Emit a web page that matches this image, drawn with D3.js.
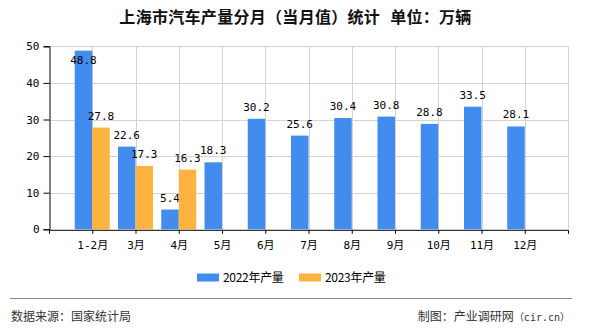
<!DOCTYPE html>
<html>
<head>
<meta charset="utf-8">
<script src="https://cdn.jsdelivr.net/npm/d3@7"></script>
<style>
html,body{margin:0;padding:0;background:#fff;}
svg{display:block;}
</style>
</head>
<body>
<div id="chart"></div>
<script>
const categories = ["1-2月","3月","4月","5月","6月","7月","8月","9月","10月","11月","12月"];
const series2022 = [48.8,22.6,5.4,18.3,30.2,25.6,30.4,30.8,28.8,33.5,28.1];
const series2023 = [27.8,17.3,16.3,null,null,null,null,null,null,null,null];
const seriesNames = ["2022年产量","2023年产量"];
const seriesColors = ["#428CEE","#FCB33F"];
const yTicks = [0,10,20,30,40,50];
const titleMain = "上海市汽车产量分月（当月值）统计";
const titleUnit = "单位：万辆";
const sourceText = "数据来源：国家统计局";
const creditText = "制图：产业调研网";
const creditSite = "（cir.cn）";

const W = 590, H = 330;
const L = 49, R = 568, T = 46.3, B = 229.3;
const monoFont = "'DejaVu Sans Mono','Noto Sans CJK SC',monospace";
const cjkFont = "'Noto Sans CJK SC','Noto Sans',sans-serif";

const svg = d3.select("#chart").append("svg").attr("width", W).attr("height", H);

const x = d3.scalePoint().domain(categories).range([L, R]).padding(1);
const y = d3.scaleLinear().domain([0, 50]).range([B, T]);
const sub = d3.scaleBand().domain(seriesNames).range([-17.5, 17.5]).padding(0);

// title
const tt = svg.append("text").attr("x", 295.5).attr("y", 23).attr("text-anchor", "middle")
  .attr("font-family", cjkFont).attr("font-size", 16).attr("font-weight", "bold")
  .attr("letter-spacing", 0.3).attr("fill", "#111");
tt.append("tspan").text(titleMain);
tt.append("tspan").attr("dx", 10).text(titleUnit);

// grid
const grid = svg.append("g");
grid.selectAll("line.h").data(yTicks.filter(d => d > 0)).join("line")
  .attr("x1", L).attr("x2", R).attr("y1", d => Math.round(y(d)) + 0.5).attr("y2", d => Math.round(y(d)) + 0.5)
  .attr("stroke", "#d3d3d3").attr("stroke-width", 1);
const vx = categories.map(c => x(c)).concat([R]);
grid.selectAll("line.v").data(vx).join("line")
  .attr("x1", d => Math.round(d) + 0.5).attr("x2", d => Math.round(d) + 0.5)
  .attr("y1", T).attr("y2", B)
  .attr("stroke", "#d3d3d3").attr("stroke-width", 1);

// bars
const allSeries = [series2022, series2023];
allSeries.forEach((vals, si) => {
  const g = svg.append("g");
  const data = categories.map((c, i) => ({c, v: vals[i]})).filter(d => d.v != null);
  g.selectAll("rect").data(data).join("rect")
    .attr("x", d => x(d.c) + sub(seriesNames[si]))
    .attr("width", sub.bandwidth())
    .attr("y", d => y(d.v))
    .attr("height", d => B - y(d.v))
    .attr("fill", seriesColors[si]);
  g.selectAll("text").data(data).join("text")
    .attr("x", d => x(d.c) + sub(seriesNames[si]) + sub.bandwidth() / 2)
    .attr("y", d => (y(d.v) - 16 < T) ? y(d.v) + 13 : y(d.v) - 8)
    .attr("text-anchor", "middle")
    .attr("font-family", monoFont).attr("font-size", 11).attr("fill", "#000")
    .text(d => d.v.toFixed(1));
});

// y axis
const yAxis = svg.append("g").attr("transform", `translate(${L + 0.5},0)`)
  .call(d3.axisLeft(y).tickValues(yTicks).tickSize(6).tickPadding(4));
yAxis.select(".domain").attr("stroke", "#000");
yAxis.selectAll(".tick line").attr("stroke", "#000");
yAxis.selectAll("text").attr("font-family", monoFont).attr("font-size", 11).attr("fill", "#000");

// x axis
const xAxis = svg.append("g").attr("transform", `translate(0,${B + 0.5})`)
  .call(d3.axisBottom(x).tickSize(4).tickPadding(7).tickSizeOuter(4));
xAxis.select(".domain").attr("stroke", "#000");
xAxis.selectAll(".tick line").attr("stroke", "#000");
xAxis.selectAll("text").attr("font-family", monoFont).attr("font-size", 11).attr("fill", "#000");

// legend
const lg = svg.append("g");
const legendX = [197, 299];
seriesNames.forEach((n, i) => {
  lg.append("rect").attr("x", legendX[i]).attr("y", 273.5).attr("width", 22).attr("height", 8).attr("fill", seriesColors[i]);
  lg.append("text").attr("x", legendX[i] + 26).attr("y", 281.5)
    .attr("font-family", cjkFont).attr("font-size", 12).attr("letter-spacing", -0.3).attr("fill", "#000").text(n);
});

// footer
svg.append("line").attr("x1", 10).attr("x2", 572).attr("y1", 298.5).attr("y2", 298.5)
  .attr("stroke", "#888").attr("stroke-width", 1);
svg.append("text").attr("x", 11).attr("y", 321).attr("font-family", cjkFont).attr("font-size", 12)
  .attr("fill", "#333").text(sourceText);
const ct = svg.append("text").attr("x", 570).attr("y", 321).attr("text-anchor", "end").attr("font-family", cjkFont).attr("font-size", 12)
  .attr("fill", "#333");
ct.append("tspan").text(creditText);
ct.append("tspan").attr("font-family", monoFont).attr("font-size", 10).text(creditSite);
</script>
</body>
</html>
